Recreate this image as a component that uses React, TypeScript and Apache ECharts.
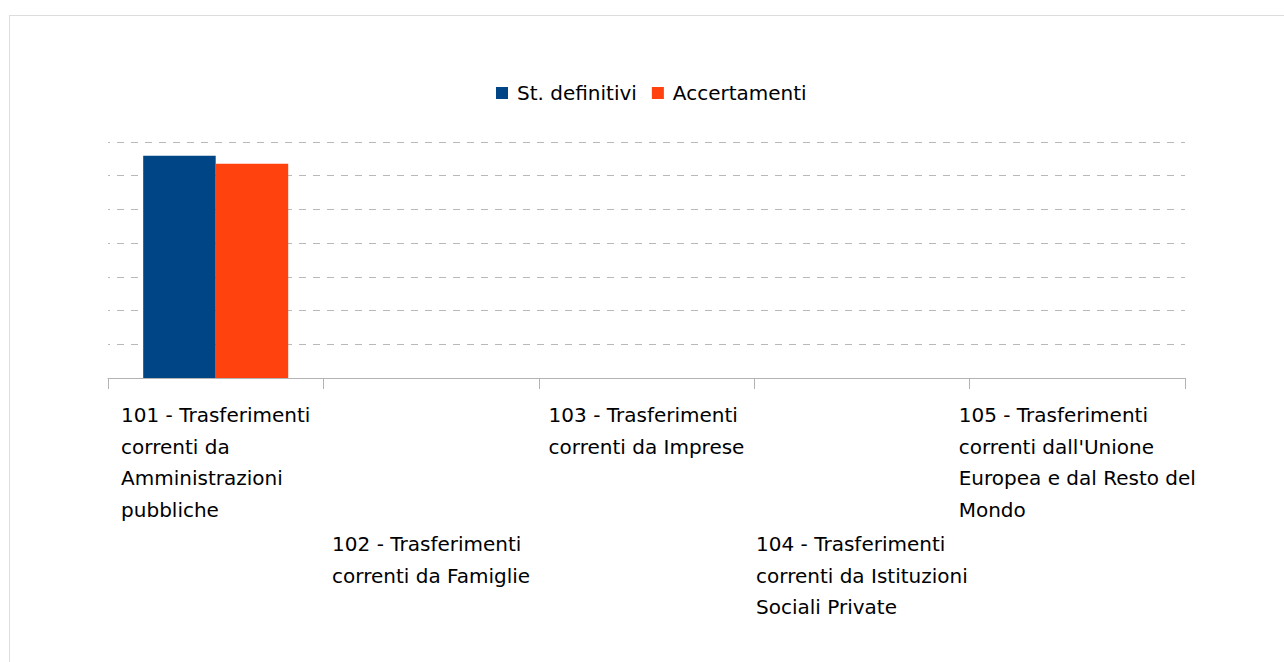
import React, { useEffect, useRef } from 'react';
import * as echarts from 'echarts';

const categories = ['101', '102', '103', '104', '105'];
const tickLabels: string[][] = [
  ['101 - Trasferimenti', 'correnti da', 'Amministrazioni', 'pubbliche'],
  ['102 - Trasferimenti', 'correnti da Famiglie'],
  ['103 - Trasferimenti', 'correnti da Imprese'],
  ['104 - Trasferimenti', 'correnti da Istituzioni', 'Sociali Private'],
  ['105 - Trasferimenti', "correnti dall'Unione", 'Europea e dal Resto del', 'Mondo'],
];
const seriesNames = ['St. definitivi', 'Accertamenti'];
const stDefinitivi = [329.7, 0, 0, 0, 0];
const accertamenti = [317.9, 0, 0, 0, 0];
const yMin = 0;
const yMax = 350;
const yInterval = 50;

const FONT = 'DejaVu Sans';
const FS = 20;
const LH = 31.7;

export default function App() {
  const ref = useRef<HTMLDivElement>(null);
  useEffect(() => {
    if (!ref.current) return;
    const chart = echarts.init(ref.current, undefined, { renderer: 'svg' });
    chart.setOption({
      animation: false,
      legend: {
        left: 491,
        top: 78,
        icon: 'rect',
        itemWidth: 12,
        itemHeight: 12,
        itemGap: 15,
        textStyle: {
          fontFamily: FONT,
          fontSize: FS,
          color: '#000',
          padding: [0, 0, 0, 4],
        },
        data: seriesNames,
      },
      grid: { left: 108, right: 99, top: 142, bottom: 284 },
      xAxis: {
        type: 'category',
        data: categories,
        axisLine: { lineStyle: { color: '#b3b3b3', width: 1 } },
        axisTick: { show: true, length: 11, lineStyle: { color: '#b3b3b3' } },
        axisLabel: {
          interval: 0,
          margin: 21,
          fontFamily: FONT,
          fontSize: FS,
          color: '#000',
          formatter: (_v: string, i: number) => {
            const lines = tickLabels[i].map((l) => `{a|${l}}`);
            if (i % 2 === 1) lines.unshift('{g| }');
            return lines.join('\n');
          },
          rich: {
            a: { align: 'left', fontFamily: FONT, fontSize: FS, lineHeight: LH, color: '#000' },
            g: { align: 'left', fontFamily: FONT, fontSize: FS, lineHeight: 129 },
          },
        },
      },
      yAxis: {
        type: 'value',
        min: yMin,
        max: yMax,
        interval: yInterval,
        axisLabel: { show: false },
        axisLine: { show: false },
        axisTick: { show: false },
        splitLine: {
          show: true,
          lineStyle: { color: '#b8b8b8', type: [7, 7], width: 1, dashOffset: 5 },
        },
      },
      series: [
        {
          name: seriesNames[0],
          type: 'bar',
          data: stDefinitivi,
          barWidth: 72.5,
          barGap: '0%',
          itemStyle: { color: '#004586' },
        },
        {
          name: seriesNames[1],
          type: 'bar',
          data: accertamenti,
          barWidth: 72.5,
          barGap: '0%',
          itemStyle: { color: '#ff420e' },
        },
      ],
    });
    return () => chart.dispose();
  }, []);

  return (
    <div style={{ position: 'fixed', left: 0, top: 0, width: 1284, height: 662, overflow: 'hidden', background: '#fff' }}>
      <div
        style={{
          position: 'absolute',
          left: 9,
          top: 15,
          width: 1300,
          height: 700,
          border: '1px solid #dddddd',
          boxSizing: 'border-box',
        }}
      />
      <div ref={ref} style={{ position: 'absolute', left: 0, top: 0, width: 1284, height: 662 }} />
    </div>
  );
}
